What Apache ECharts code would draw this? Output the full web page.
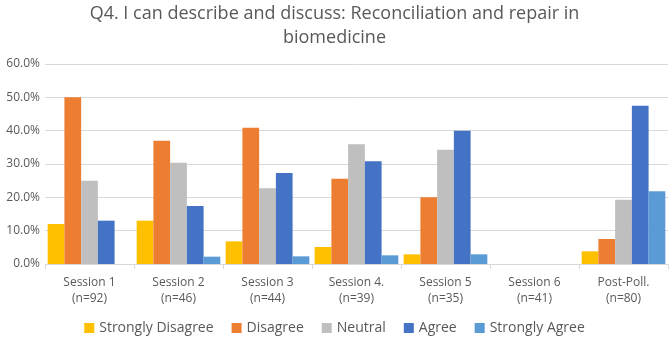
<!DOCTYPE html>
<html>
<head>
<meta charset="utf-8">
<script src="https://cdn.jsdelivr.net/npm/echarts@6/dist/echarts.min.js"></script>
<style>
html, body { margin: 0; padding: 0; background: #fff; }
#main { width: 669px; height: 337px; }
</style>
</head>
<body>
<div id="main"></div>
<script>
var sessions = ['Session 1\n(n=92)', 'Session 2\n(n=46)', 'Session 3\n(n=44)', 'Session 4.\n(n=39)', 'Session 5\n(n=35)', 'Session 6\n(n=41)', 'Post-Poll.\n(n=80)'];
var strongDisagree = [12.0, 13.0, 6.8, 5.1, 2.9, 0, 3.8];
var disagree = [50.0, 37.0, 40.9, 25.6, 20.0, 0, 7.5];
var neutral = [25.0, 30.4, 22.7, 35.9, 34.3, 0, 19.3];
var agree = [13.0, 17.4, 27.3, 30.8, 40.0, 0, 47.5];
var strongAgree = [0, 2.2, 2.3, 2.6, 2.9, 0, 21.8];

var seriesNames = ['Strongly Disagree', 'Disagree', 'Neutral', 'Agree', 'Strongly Agree'];
var seriesData = [strongDisagree, disagree, neutral, agree, strongAgree];
var colors = ['#FFC000', '#ED7D31', '#BFBFBF', '#4472C4', '#5B9BD5'];

var myChart = echarts.init(document.getElementById('main'));

var font = 'Open Sans';

var option = {
	color: colors,
	animation: false,
	title: {
		text: 'Q4. I can describe and discuss: Reconciliation and repair in\nbiomedicine',
		left: 'center',
		top: -3,
		textStyle: {
			fontFamily: font,
			fontWeight: 'normal',
			fontSize: 18,
			color: '#595959',
			lineHeight: 24
		}
	},
	legend: {
		data: seriesNames,
		bottom: -3,
		left: 'center',
		itemWidth: 10,
		itemHeight: 10,
		itemGap: 18,
		icon: 'rect',
		textStyle: {
			fontFamily: font,
			fontSize: 14,
			color: '#595959'
		}
	},
	grid: {
		left: 45,
		right: 1,
		top: 64,
		bottom: 73,
		containLabel: false
	},
	xAxis: {
		type: 'category',
		data: sessions,
		axisLine: { lineStyle: { color: '#D9D9D9' } },
		axisTick: { show: true, length: 5, lineStyle: { color: '#D9D9D9' } },
		axisLabel: {
			fontFamily: font,
			fontSize: 12,
			color: '#595959',
			lineHeight: 16,
			margin: 11
		}
	},
	yAxis: {
		type: 'value',
		min: 0,
		max: 60,
		interval: 10,
		axisLine: { show: false },
		axisTick: { show: false },
		splitLine: { lineStyle: { color: '#D9D9D9' } },
		axisLabel: {
			fontFamily: font,
			fontSize: 12,
			color: '#595959',
			margin: 5,
			formatter: function(v){ return v.toFixed(1) + '%'; }
		}
	},
	series: []
};

for (var i = 0; i < seriesNames.length; i++){
	option.series.push({
		name: seriesNames[i],
		type: 'bar',
		data: seriesData[i],
		barGap: '0%',
		barCategoryGap: '6%'
	});
}

myChart.setOption(option);
</script>
</body>
</html>
